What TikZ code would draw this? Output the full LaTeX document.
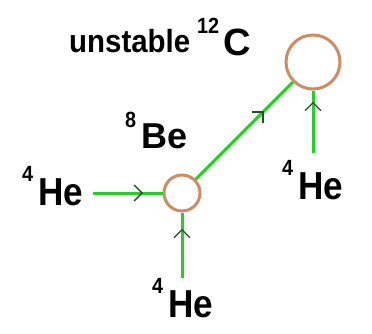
\documentclass[tikz,border=0pt]{standalone}
\usepackage{fontspec}
\setmainfont{Liberation Sans}
\usetikzlibrary{arrows.meta,decorations.markings}
\definecolor{gline}{RGB}{40,205,40}
\definecolor{ringc}{RGB}{205,140,100}
\definecolor{tipc}{RGB}{40,75,40}
\newcommand\mysup[2][24pt]{\raisebox{#1}{\fontsize{22}{22}\selectfont\scalebox{0.9}[1]{#2}}}
\newcommand\he{\scalebox{0.9}[1]{He}}
\tikzset{
  lbl/.style={anchor=base west,inner sep=0pt,font=\bfseries\fontsize{39}{39}\selectfont},
  ringnode/.style={circle,draw=ringc,line width=3pt,fill=white,inner sep=0pt},
  gl/.style={draw=gline,line width=3pt},
  midarrow/.style={postaction={decorate},decoration={markings,
    mark=at position #1 with {\arrow[tipc,line width=1.3pt]{Straight Barb[length=8pt,width=16pt]}}}}
}
\begin{document}
\begin{tikzpicture}[x=1pt,y=-1pt]
\fill[white] (0,0) rectangle (372,333);
\useasboundingbox (0,0) rectangle (372,333);
% labels
\node[lbl,font=\bfseries\fontsize{32}{32}\selectfont] (unst) at (69,52) {\scalebox{0.92}[1]{unstable}};
\node[lbl,font=\bfseries\fontsize{38}{38}\selectfont] (clbl) at (197,55) {\mysup[22pt]{12}\hspace{4pt}C};
\node[lbl,font=\bfseries\fontsize{36}{36}\selectfont] (belbl) at (125,148) {\mysup[21pt]{8}\hspace{5pt}Be};
\node[lbl] (heL) at (22,205) {\mysup{4}\hspace{5pt}\he};
\node[lbl] (heB) at (152,317) {\mysup{4}\hspace{5pt}\he};
\node[lbl] (heR) at (282,199) {\mysup{4}\hspace{5pt}\he};
% nuclei
\node[ringnode,minimum size=36pt] (be) at (182,193) {};
\node[ringnode,minimum size=54pt] (c) at (313,62) {};
% free ends
\coordinate (sL) at (93,193);
\coordinate (sB) at (182,278);
\coordinate (sR) at (313,153);
% connectors
\path[gl,midarrow=0.72] (sL) -- (be);
\path[gl,midarrow=0.75] (sB) -- (be);
\path[gl,midarrow=0.7] (be) -- (c);
\path[gl,midarrow=0.82] (sR) -- (c);
\end{tikzpicture}
\end{document}
